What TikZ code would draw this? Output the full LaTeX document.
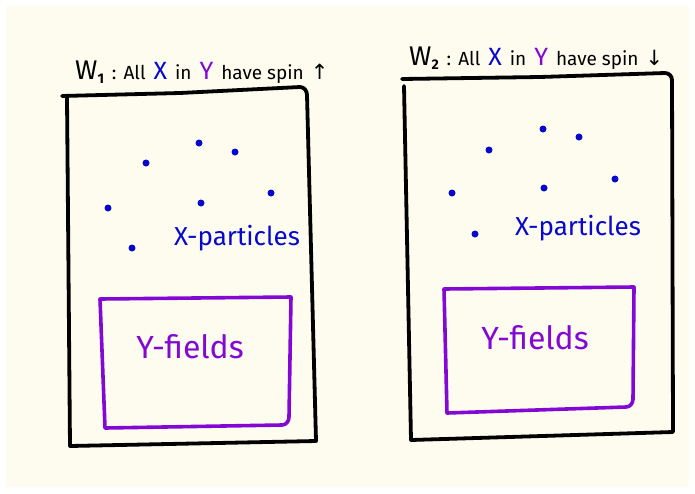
\documentclass[tikz,border=0pt]{standalone}
\usepackage{fontspec}
\setmainfont{Fira Sans}
\newfontfamily\symfont{DejaVu Sans}
\definecolor{cream}{RGB}{253,252,238}
\definecolor{xblue}{RGB}{8,8,204}
\definecolor{ypurple}{RGB}{132,8,212}
\newcommand{\bigw}[1]{{\fontsize{27}{27}\selectfont W}\raisebox{-4pt}{\fontsize{14}{14}\selectfont\bfseries #1}}
\newcommand{\colx}{{\fontsize{25}{25}\selectfont\color{xblue}X}}
\newcommand{\coly}{{\fontsize{25}{25}\selectfont\color{ypurple}Y}}
\newcommand{\gp}{\hspace{8pt}}
\newcommand{\titletext}[2]{\bigw{#1}\hspace{8pt}:\hspace{7pt}All\gp\colx\gp in\gp\coly\gp have spin\hspace{7pt}{\symfont\fontsize{21}{21}\selectfont #2}}
\begin{document}
\begin{tikzpicture}[x=1pt,y=-1pt,
  frame/.style={line width=3.8pt,black,line cap=round,line join=round},
  yframe/.style={line width=3.6pt,ypurple,line cap=round,line join=round},
  dotx/.style={circle,fill=xblue,inner sep=0pt,minimum size=7pt},
  xlab/.style={text=xblue,font=\fontsize{26}{26}\selectfont},
  ylab/.style={text=ypurple,font=\fontsize{32}{32}\selectfont},
  title/.style={font=\fontsize{19}{19}\selectfont,anchor=base west,inner sep=0pt}]
\useasboundingbox (0,0) rectangle (695,493);
\fill[white] (0,0) rectangle (695,493);
\fill[cream] (6,6) rectangle (689,487);
% left world
\draw[frame] (62,96) -- (180,93) -- (300,87) to[out=0,in=90] (307,95) -- (316,441)
  -- (70,446) -- (67,98);
\draw[yframe] (100,299) -- (291,297) -- (289,417) to[out=-90,in=0] (282,425) -- (105,428) -- cycle;
\foreach \p [count=\i] in {(108,208),(146,163),(199,143),(235,152),(201,203),(271,193),(132,248)}
  \node[dotx] (la\i) at \p {};
\node[xlab] (lx) at (237,238) {X-particles};
\node[ylab] (ly) at (190,347) {Y-fields};
\node[title] (lt) at (75,79) {\titletext{1}{↑}};
% right world
\draw[frame] (402,79) -- (540,77) -- (665,73) to[out=0,in=90] (672,80) -- (673,432)
  -- (411,440) -- (404,86);
\draw[yframe] (444,289) -- (634,287) -- (633,399) to[out=-90,in=0] (626,407) -- (447,413) -- cycle;
\foreach \p [count=\i] in {(452,193),(489,150),(543,129),(579,137),(544,188),(615,179),(475,234)}
  \node[dotx] (ra\i) at \p {};
\node[xlab] (rx) at (578,228) {X-particles};
\node[ylab] (ry) at (535,338) {Y-fields};
\node[title] (rt) at (409,65) {\titletext{2}{↓}};
\end{tikzpicture}
\end{document}
